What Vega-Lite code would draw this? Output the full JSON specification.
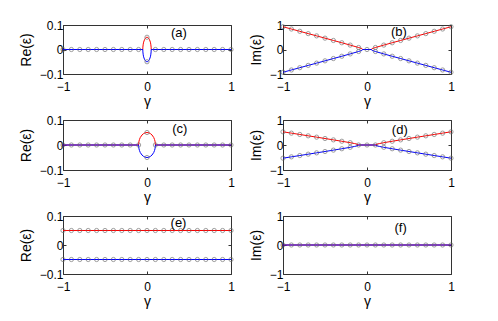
{
  "$schema": "https://vega.github.io/schema/vega-lite/v6.json",
  "padding": {"left": 18, "top": 18, "right": 0, "bottom": 0},
  "background": "white",
  "config": {
    "font": "Liberation Sans",
    "view": {"stroke": "#333", "strokeWidth": 1},
    "axis": {"grid": false, "domain": false, "tickSize": -3, "tickColor": "#333", "labelFont": "Liberation Sans", "labelFontSize": 12, "labelColor": "#000", "labelPadding": 3, "labelFlush": false, "labelOverlap": false, "titleFont": "Liberation Sans", "titleFontSize": 14, "titleFontWeight": "normal", "titleColor": "#000"},
    "axisY": {"titlePadding": 6},
    "axisX": {"titlePadding": 2, "labelPadding": 10}
  },
  "datasets": {
    "aL": [
      {"s":"r","g":-1,"v":0},{"s":"r","g":-0.05,"v":0},{"s":"r","g":-0.049,"v":0.0099},{"s":"r","g":-0.045,"v":0.0218},{"s":"r","g":-0.04,"v":0.03},{"s":"r","g":-0.03,"v":0.04},{"s":"r","g":-0.02,"v":0.0458},{"s":"r","g":-0.01,"v":0.049},{"s":"r","g":0,"v":0.05},{"s":"r","g":0.01,"v":0.049},{"s":"r","g":0.02,"v":0.0458},{"s":"r","g":0.03,"v":0.04},{"s":"r","g":0.04,"v":0.03},{"s":"r","g":0.045,"v":0.0218},{"s":"r","g":0.049,"v":0.0099},{"s":"r","g":0.05,"v":0},{"s":"r","g":1,"v":0},
      {"s":"b","g":-1,"v":0},{"s":"b","g":-0.05,"v":0},{"s":"b","g":-0.049,"v":-0.0099},{"s":"b","g":-0.045,"v":-0.0218},{"s":"b","g":-0.04,"v":-0.03},{"s":"b","g":-0.03,"v":-0.04},{"s":"b","g":-0.02,"v":-0.0458},{"s":"b","g":-0.01,"v":-0.049},{"s":"b","g":0,"v":-0.05},{"s":"b","g":0.01,"v":-0.049},{"s":"b","g":0.02,"v":-0.0458},{"s":"b","g":0.03,"v":-0.04},{"s":"b","g":0.04,"v":-0.03},{"s":"b","g":0.045,"v":-0.0218},{"s":"b","g":0.049,"v":-0.0099},{"s":"b","g":0.05,"v":0},{"s":"b","g":1,"v":0}
    ],
    "aM": [
      {"g":-1,"v":0},{"g":-0.9,"v":0},{"g":-0.8,"v":0},{"g":-0.7,"v":0},{"g":-0.6,"v":0},{"g":-0.5,"v":0},{"g":-0.4,"v":0},{"g":-0.3,"v":0},{"g":-0.2,"v":0},{"g":-0.1,"v":0},{"g":0,"v":0.05},{"g":0,"v":-0.05},{"g":0.1,"v":0},{"g":0.2,"v":0},{"g":0.3,"v":0},{"g":0.4,"v":0},{"g":0.5,"v":0},{"g":0.6,"v":0},{"g":0.7,"v":0},{"g":0.8,"v":0},{"g":0.9,"v":0},{"g":1,"v":0}
    ],
    "cL": [
      {"s":"r","g":-1,"v":0},{"s":"r","g":-0.1,"v":0},{"s":"r","g":-0.099,"v":0.007},{"s":"r","g":-0.095,"v":0.0156},{"s":"r","g":-0.09,"v":0.0218},{"s":"r","g":-0.08,"v":0.03},{"s":"r","g":-0.06,"v":0.04},{"s":"r","g":-0.04,"v":0.0458},{"s":"r","g":-0.02,"v":0.049},{"s":"r","g":0,"v":0.05},{"s":"r","g":0.02,"v":0.049},{"s":"r","g":0.04,"v":0.0458},{"s":"r","g":0.06,"v":0.04},{"s":"r","g":0.08,"v":0.03},{"s":"r","g":0.09,"v":0.0218},{"s":"r","g":0.095,"v":0.0156},{"s":"r","g":0.099,"v":0.007},{"s":"r","g":0.1,"v":0},{"s":"r","g":1,"v":0},
      {"s":"b","g":-1,"v":0},{"s":"b","g":-0.1,"v":0},{"s":"b","g":-0.099,"v":-0.007},{"s":"b","g":-0.095,"v":-0.0156},{"s":"b","g":-0.09,"v":-0.0218},{"s":"b","g":-0.08,"v":-0.03},{"s":"b","g":-0.06,"v":-0.04},{"s":"b","g":-0.04,"v":-0.0458},{"s":"b","g":-0.02,"v":-0.049},{"s":"b","g":0,"v":-0.05},{"s":"b","g":0.02,"v":-0.049},{"s":"b","g":0.04,"v":-0.0458},{"s":"b","g":0.06,"v":-0.04},{"s":"b","g":0.08,"v":-0.03},{"s":"b","g":0.09,"v":-0.0218},{"s":"b","g":0.095,"v":-0.0156},{"s":"b","g":0.099,"v":-0.007},{"s":"b","g":0.1,"v":0},{"s":"b","g":1,"v":0}
    ],
    "bL": [
      {"s":"r","g":-1,"v":0.929},{"s":"r","g":-0.9,"v":0.836},{"s":"r","g":-0.8,"v":0.743},{"s":"r","g":-0.7,"v":0.649},{"s":"r","g":-0.6,"v":0.556},{"s":"r","g":-0.5,"v":0.463},{"s":"r","g":-0.4,"v":0.369},{"s":"r","g":-0.3,"v":0.275},{"s":"r","g":-0.2,"v":0.18},{"s":"r","g":-0.1,"v":0.081},{"s":"r","g":-0.07,"v":0.046},{"s":"r","g":-0.06,"v":0.031},{"s":"r","g":-0.05,"v":0},{"s":"r","g":0,"v":0},{"s":"r","g":0.05,"v":0},{"s":"r","g":0.06,"v":0.031},{"s":"r","g":0.07,"v":0.046},{"s":"r","g":0.1,"v":0.081},{"s":"r","g":0.2,"v":0.18},{"s":"r","g":0.3,"v":0.275},{"s":"r","g":0.4,"v":0.369},{"s":"r","g":0.5,"v":0.463},{"s":"r","g":0.6,"v":0.556},{"s":"r","g":0.7,"v":0.649},{"s":"r","g":0.8,"v":0.743},{"s":"r","g":0.9,"v":0.836},{"s":"r","g":1,"v":0.929},
      {"s":"b","g":-1,"v":-0.929},{"s":"b","g":-0.9,"v":-0.836},{"s":"b","g":-0.8,"v":-0.743},{"s":"b","g":-0.7,"v":-0.649},{"s":"b","g":-0.6,"v":-0.556},{"s":"b","g":-0.5,"v":-0.463},{"s":"b","g":-0.4,"v":-0.369},{"s":"b","g":-0.3,"v":-0.275},{"s":"b","g":-0.2,"v":-0.18},{"s":"b","g":-0.1,"v":-0.081},{"s":"b","g":-0.07,"v":-0.046},{"s":"b","g":-0.06,"v":-0.031},{"s":"b","g":-0.05,"v":0},{"s":"b","g":0,"v":0},{"s":"b","g":0.05,"v":0},{"s":"b","g":0.06,"v":-0.031},{"s":"b","g":0.07,"v":-0.046},{"s":"b","g":0.1,"v":-0.081},{"s":"b","g":0.2,"v":-0.18},{"s":"b","g":0.3,"v":-0.275},{"s":"b","g":0.4,"v":-0.369},{"s":"b","g":0.5,"v":-0.463},{"s":"b","g":0.6,"v":-0.556},{"s":"b","g":0.7,"v":-0.649},{"s":"b","g":0.8,"v":-0.743},{"s":"b","g":0.9,"v":-0.836},{"s":"b","g":1,"v":-0.929}
    ],
    "bM": [
      {"g":-1,"v":0.929},{"g":-0.9,"v":0.836},{"g":-0.8,"v":0.743},{"g":-0.7,"v":0.649},{"g":-0.6,"v":0.556},{"g":-0.5,"v":0.463},{"g":-0.4,"v":0.369},{"g":-0.3,"v":0.275},{"g":-0.2,"v":0.18},{"g":-0.1,"v":0.081},{"g":0,"v":0},{"g":0.1,"v":0.081},{"g":0.2,"v":0.18},{"g":0.3,"v":0.275},{"g":0.4,"v":0.369},{"g":0.5,"v":0.463},{"g":0.6,"v":0.556},{"g":0.7,"v":0.649},{"g":0.8,"v":0.743},{"g":0.9,"v":0.836},{"g":1,"v":0.929},
      {"g":-1,"v":-0.929},{"g":-0.9,"v":-0.836},{"g":-0.8,"v":-0.743},{"g":-0.7,"v":-0.649},{"g":-0.6,"v":-0.556},{"g":-0.5,"v":-0.463},{"g":-0.4,"v":-0.369},{"g":-0.3,"v":-0.275},{"g":-0.2,"v":-0.18},{"g":-0.1,"v":-0.081},{"g":0.1,"v":-0.081},{"g":0.2,"v":-0.18},{"g":0.3,"v":-0.275},{"g":0.4,"v":-0.369},{"g":0.5,"v":-0.463},{"g":0.6,"v":-0.556},{"g":0.7,"v":-0.649},{"g":0.8,"v":-0.743},{"g":0.9,"v":-0.836},{"g":1,"v":-0.929}
    ],
    "dL": [
      {"s":"r","g":-1,"v":0.527},{"s":"r","g":-0.9,"v":0.474},{"s":"r","g":-0.8,"v":0.421},{"s":"r","g":-0.7,"v":0.367},{"s":"r","g":-0.6,"v":0.314},{"s":"r","g":-0.5,"v":0.26},{"s":"r","g":-0.4,"v":0.205},{"s":"r","g":-0.3,"v":0.15},{"s":"r","g":-0.2,"v":0.092},{"s":"r","g":-0.15,"v":0.059},{"s":"r","g":-0.12,"v":0.035},{"s":"r","g":-0.1,"v":0},{"s":"r","g":0,"v":0},{"s":"r","g":0.1,"v":0},{"s":"r","g":0.12,"v":0.035},{"s":"r","g":0.15,"v":0.059},{"s":"r","g":0.2,"v":0.092},{"s":"r","g":0.3,"v":0.15},{"s":"r","g":0.4,"v":0.205},{"s":"r","g":0.5,"v":0.26},{"s":"r","g":0.6,"v":0.314},{"s":"r","g":0.7,"v":0.367},{"s":"r","g":0.8,"v":0.421},{"s":"r","g":0.9,"v":0.474},{"s":"r","g":1,"v":0.527},
      {"s":"b","g":-1,"v":-0.527},{"s":"b","g":-0.9,"v":-0.474},{"s":"b","g":-0.8,"v":-0.421},{"s":"b","g":-0.7,"v":-0.367},{"s":"b","g":-0.6,"v":-0.314},{"s":"b","g":-0.5,"v":-0.26},{"s":"b","g":-0.4,"v":-0.205},{"s":"b","g":-0.3,"v":-0.15},{"s":"b","g":-0.2,"v":-0.092},{"s":"b","g":-0.15,"v":-0.059},{"s":"b","g":-0.12,"v":-0.035},{"s":"b","g":-0.1,"v":0},{"s":"b","g":0,"v":0},{"s":"b","g":0.1,"v":0},{"s":"b","g":0.12,"v":-0.035},{"s":"b","g":0.15,"v":-0.059},{"s":"b","g":0.2,"v":-0.092},{"s":"b","g":0.3,"v":-0.15},{"s":"b","g":0.4,"v":-0.205},{"s":"b","g":0.5,"v":-0.26},{"s":"b","g":0.6,"v":-0.314},{"s":"b","g":0.7,"v":-0.367},{"s":"b","g":0.8,"v":-0.421},{"s":"b","g":0.9,"v":-0.474},{"s":"b","g":1,"v":-0.527}
    ],
    "dM": [
      {"g":-1,"v":0.527},{"g":-0.9,"v":0.474},{"g":-0.8,"v":0.421},{"g":-0.7,"v":0.367},{"g":-0.6,"v":0.314},{"g":-0.5,"v":0.26},{"g":-0.4,"v":0.205},{"g":-0.3,"v":0.15},{"g":-0.2,"v":0.092},{"g":-0.1,"v":0},{"g":0,"v":0},{"g":0.1,"v":0},{"g":0.2,"v":0.092},{"g":0.3,"v":0.15},{"g":0.4,"v":0.205},{"g":0.5,"v":0.26},{"g":0.6,"v":0.314},{"g":0.7,"v":0.367},{"g":0.8,"v":0.421},{"g":0.9,"v":0.474},{"g":1,"v":0.527},
      {"g":-1,"v":-0.527},{"g":-0.9,"v":-0.474},{"g":-0.8,"v":-0.421},{"g":-0.7,"v":-0.367},{"g":-0.6,"v":-0.314},{"g":-0.5,"v":-0.26},{"g":-0.4,"v":-0.205},{"g":-0.3,"v":-0.15},{"g":-0.2,"v":-0.092},{"g":0.2,"v":-0.092},{"g":0.3,"v":-0.15},{"g":0.4,"v":-0.205},{"g":0.5,"v":-0.26},{"g":0.6,"v":-0.314},{"g":0.7,"v":-0.367},{"g":0.8,"v":-0.421},{"g":0.9,"v":-0.474},{"g":1,"v":-0.527}
    ],
    "eL": [
      {"s":"r","g":-1,"v":0.05},{"s":"r","g":1,"v":0.05},{"s":"b","g":-1,"v":-0.05},{"s":"b","g":1,"v":-0.05}
    ],
    "eM": [
      {"g":-1,"v":0.05},{"g":-0.9,"v":0.05},{"g":-0.8,"v":0.05},{"g":-0.7,"v":0.05},{"g":-0.6,"v":0.05},{"g":-0.5,"v":0.05},{"g":-0.4,"v":0.05},{"g":-0.3,"v":0.05},{"g":-0.2,"v":0.05},{"g":-0.1,"v":0.05},{"g":0,"v":0.05},{"g":0.1,"v":0.05},{"g":0.2,"v":0.05},{"g":0.3,"v":0.05},{"g":0.4,"v":0.05},{"g":0.5,"v":0.05},{"g":0.6,"v":0.05},{"g":0.7,"v":0.05},{"g":0.8,"v":0.05},{"g":0.9,"v":0.05},{"g":1,"v":0.05},
      {"g":-1,"v":-0.05},{"g":-0.9,"v":-0.05},{"g":-0.8,"v":-0.05},{"g":-0.7,"v":-0.05},{"g":-0.6,"v":-0.05},{"g":-0.5,"v":-0.05},{"g":-0.4,"v":-0.05},{"g":-0.3,"v":-0.05},{"g":-0.2,"v":-0.05},{"g":-0.1,"v":-0.05},{"g":0,"v":-0.05},{"g":0.1,"v":-0.05},{"g":0.2,"v":-0.05},{"g":0.3,"v":-0.05},{"g":0.4,"v":-0.05},{"g":0.5,"v":-0.05},{"g":0.6,"v":-0.05},{"g":0.7,"v":-0.05},{"g":0.8,"v":-0.05},{"g":0.9,"v":-0.05},{"g":1,"v":-0.05}
    ],
    "fL": [
      {"s":"r","g":-1,"v":0},{"s":"r","g":1,"v":0},{"s":"b","g":-1,"v":0},{"s":"b","g":1,"v":0}
    ],
    "fM": [
      {"g":-1,"v":0},{"g":-0.9,"v":0},{"g":-0.8,"v":0},{"g":-0.7,"v":0},{"g":-0.6,"v":0},{"g":-0.5,"v":0},{"g":-0.4,"v":0},{"g":-0.3,"v":0},{"g":-0.2,"v":0},{"g":-0.1,"v":0},{"g":0,"v":0},{"g":0.1,"v":0},{"g":0.2,"v":0},{"g":0.3,"v":0},{"g":0.4,"v":0},{"g":0.5,"v":0},{"g":0.6,"v":0},{"g":0.7,"v":0},{"g":0.8,"v":0},{"g":0.9,"v":0},{"g":1,"v":0}
    ]
  },
  "columns": 2,
  "spacing": {"row": 46, "column": 52},
  "bounds": "flush",
  "align": "each",
  "concat": [
    {
      "width": 168, "height": 49,
      "resolve": {"axis": {"x": "independent", "y": "independent"}},
      "encoding": {
        "x": {"field": "g", "type": "quantitative", "scale": {"domain": [-1, 1], "nice": false, "zero": false}, "axis": {"values": [-1, 0, 1], "format": "~g", "title": "γ"}},
        "y": {"field": "v", "type": "quantitative", "scale": {"domain": [-0.1, 0.1], "nice": false, "zero": false}, "axis": {"values": [-0.1, 0, 0.1], "format": "~g", "title": "Re(ε)"}}
      },
      "layer": [
        {"data": {"name": "aL"}, "mark": {"type": "line", "strokeWidth": 1}, "encoding": {"color": {"field": "s", "type": "nominal", "scale": {"domain": ["r", "b"], "range": ["#ff0000", "#0000ff"]}, "legend": null}}},
        {"data": {"name": "aM"}, "mark": {"type": "point", "filled": false, "size": 18, "stroke": "#666666", "strokeWidth": 0.9},
         "encoding": {"x": {"field": "g", "type": "quantitative", "scale": {"domain": [-1, 1], "nice": false, "zero": false}, "axis": null}, "y": {"field": "v", "type": "quantitative", "scale": {"domain": [-0.1, 0.1], "nice": false, "zero": false}, "axis": null}}},
        {"data": {"values": [{"g": 0.38, "v": 0.068, "t": "(a)"}]}, "mark": {"type": "text", "fontSize": 13, "font": "Liberation Sans", "color": "#000", "baseline": "middle"},
         "encoding": {"text": {"field": "t"}, "x": {"field": "g", "type": "quantitative", "scale": {"domain": [-1, 1], "nice": false, "zero": false}, "axis": {"orient": "top", "values": [-1, 0, 1], "labels": false, "title": null}}, "y": {"field": "v", "type": "quantitative", "scale": {"domain": [-0.1, 0.1], "nice": false, "zero": false}, "axis": {"orient": "right", "values": [-0.1, 0, 0.1], "labels": false, "title": null}}}}
      ]
    },
    {
      "width": 168, "height": 49,
      "resolve": {"axis": {"x": "independent", "y": "independent"}},
      "encoding": {
        "x": {"field": "g", "type": "quantitative", "scale": {"domain": [-1, 1], "nice": false, "zero": false}, "axis": {"values": [-1, 0, 1], "format": "~g", "title": "γ"}},
        "y": {"field": "v", "type": "quantitative", "scale": {"domain": [-1, 1], "nice": false, "zero": false}, "axis": {"values": [-1, 0, 1], "format": "~g", "title": "Im(ε)"}}
      },
      "layer": [
        {"data": {"name": "bL"}, "mark": {"type": "line", "strokeWidth": 1}, "encoding": {"color": {"field": "s", "type": "nominal", "scale": {"domain": ["r", "b"], "range": ["#ff0000", "#0000ff"]}, "legend": null}}},
        {"data": {"name": "bM"}, "mark": {"type": "point", "filled": false, "size": 18, "stroke": "#666666", "strokeWidth": 0.9},
         "encoding": {"x": {"field": "g", "type": "quantitative", "scale": {"domain": [-1, 1], "nice": false, "zero": false}, "axis": null}, "y": {"field": "v", "type": "quantitative", "scale": {"domain": [-1, 1], "nice": false, "zero": false}, "axis": null}}},
        {"data": {"values": [{"g": 0.38, "v": 0.73, "t": "(b)"}]}, "mark": {"type": "text", "fontSize": 13, "font": "Liberation Sans", "color": "#000", "baseline": "middle"},
         "encoding": {"text": {"field": "t"}, "x": {"field": "g", "type": "quantitative", "scale": {"domain": [-1, 1], "nice": false, "zero": false}, "axis": {"orient": "top", "values": [-1, 0, 1], "labels": false, "title": null}}, "y": {"field": "v", "type": "quantitative", "scale": {"domain": [-1, 1], "nice": false, "zero": false}, "axis": {"orient": "right", "values": [-1, 0, 1], "labels": false, "title": null}}}}
      ]
    },
    {
      "width": 168, "height": 50,
      "resolve": {"axis": {"x": "independent", "y": "independent"}},
      "encoding": {
        "x": {"field": "g", "type": "quantitative", "scale": {"domain": [-1, 1], "nice": false, "zero": false}, "axis": {"values": [-1, 0, 1], "format": "~g", "title": "γ"}},
        "y": {"field": "v", "type": "quantitative", "scale": {"domain": [-0.1, 0.1], "nice": false, "zero": false}, "axis": {"values": [-0.1, 0, 0.1], "format": "~g", "title": "Re(ε)"}}
      },
      "layer": [
        {"data": {"name": "cL"}, "mark": {"type": "line", "strokeWidth": 1}, "encoding": {"color": {"field": "s", "type": "nominal", "scale": {"domain": ["r", "b"], "range": ["#ff0000", "#0000ff"]}, "legend": null}}},
        {"data": {"name": "aM"}, "mark": {"type": "point", "filled": false, "size": 18, "stroke": "#666666", "strokeWidth": 0.9},
         "encoding": {"x": {"field": "g", "type": "quantitative", "scale": {"domain": [-1, 1], "nice": false, "zero": false}, "axis": null}, "y": {"field": "v", "type": "quantitative", "scale": {"domain": [-0.1, 0.1], "nice": false, "zero": false}, "axis": null}}},
        {"data": {"values": [{"g": 0.39, "v": 0.065, "t": "(c)"}]}, "mark": {"type": "text", "fontSize": 13, "font": "Liberation Sans", "color": "#000", "baseline": "middle"},
         "encoding": {"text": {"field": "t"}, "x": {"field": "g", "type": "quantitative", "scale": {"domain": [-1, 1], "nice": false, "zero": false}, "axis": {"orient": "top", "values": [-1, 0, 1], "labels": false, "title": null}}, "y": {"field": "v", "type": "quantitative", "scale": {"domain": [-0.1, 0.1], "nice": false, "zero": false}, "axis": {"orient": "right", "values": [-0.1, 0, 0.1], "labels": false, "title": null}}}}
      ]
    },
    {
      "width": 168, "height": 50,
      "resolve": {"axis": {"x": "independent", "y": "independent"}},
      "encoding": {
        "x": {"field": "g", "type": "quantitative", "scale": {"domain": [-1, 1], "nice": false, "zero": false}, "axis": {"values": [-1, 0, 1], "format": "~g", "title": "γ"}},
        "y": {"field": "v", "type": "quantitative", "scale": {"domain": [-1, 1], "nice": false, "zero": false}, "axis": {"values": [-1, 0, 1], "format": "~g", "title": "Im(ε)"}}
      },
      "layer": [
        {"data": {"name": "dL"}, "mark": {"type": "line", "strokeWidth": 1}, "encoding": {"color": {"field": "s", "type": "nominal", "scale": {"domain": ["r", "b"], "range": ["#ff0000", "#0000ff"]}, "legend": null}}},
        {"data": {"name": "dM"}, "mark": {"type": "point", "filled": false, "size": 18, "stroke": "#666666", "strokeWidth": 0.9},
         "encoding": {"x": {"field": "g", "type": "quantitative", "scale": {"domain": [-1, 1], "nice": false, "zero": false}, "axis": null}, "y": {"field": "v", "type": "quantitative", "scale": {"domain": [-1, 1], "nice": false, "zero": false}, "axis": null}}},
        {"data": {"values": [{"g": 0.39, "v": 0.62, "t": "(d)"}]}, "mark": {"type": "text", "fontSize": 13, "font": "Liberation Sans", "color": "#000", "baseline": "middle"},
         "encoding": {"text": {"field": "t"}, "x": {"field": "g", "type": "quantitative", "scale": {"domain": [-1, 1], "nice": false, "zero": false}, "axis": {"orient": "top", "values": [-1, 0, 1], "labels": false, "title": null}}, "y": {"field": "v", "type": "quantitative", "scale": {"domain": [-1, 1], "nice": false, "zero": false}, "axis": {"orient": "right", "values": [-1, 0, 1], "labels": false, "title": null}}}}
      ]
    },
    {
      "width": 168, "height": 58,
      "resolve": {"axis": {"x": "independent", "y": "independent"}},
      "encoding": {
        "x": {"field": "g", "type": "quantitative", "scale": {"domain": [-1, 1], "nice": false, "zero": false}, "axis": {"values": [-1, 0, 1], "format": "~g", "title": "γ"}},
        "y": {"field": "v", "type": "quantitative", "scale": {"domain": [-0.1, 0.1], "nice": false, "zero": false}, "axis": {"values": [-0.1, 0, 0.1], "format": "~g", "title": "Re(ε)"}}
      },
      "layer": [
        {"data": {"name": "eL"}, "mark": {"type": "line", "strokeWidth": 1}, "encoding": {"color": {"field": "s", "type": "nominal", "scale": {"domain": ["r", "b"], "range": ["#ff0000", "#0000ff"]}, "legend": null}}},
        {"data": {"name": "eM"}, "mark": {"type": "point", "filled": false, "size": 18, "stroke": "#666666", "strokeWidth": 0.9},
         "encoding": {"x": {"field": "g", "type": "quantitative", "scale": {"domain": [-1, 1], "nice": false, "zero": false}, "axis": null}, "y": {"field": "v", "type": "quantitative", "scale": {"domain": [-0.1, 0.1], "nice": false, "zero": false}, "axis": null}}},
        {"data": {"values": [{"g": 0.375, "v": 0.077, "t": "(e)"}]}, "mark": {"type": "text", "fontSize": 13, "font": "Liberation Sans", "color": "#000", "baseline": "middle"},
         "encoding": {"text": {"field": "t"}, "x": {"field": "g", "type": "quantitative", "scale": {"domain": [-1, 1], "nice": false, "zero": false}, "axis": {"orient": "top", "values": [-1, 0, 1], "labels": false, "title": null}}, "y": {"field": "v", "type": "quantitative", "scale": {"domain": [-0.1, 0.1], "nice": false, "zero": false}, "axis": {"orient": "right", "values": [-0.1, 0, 0.1], "labels": false, "title": null}}}}
      ]
    },
    {
      "width": 168, "height": 58,
      "resolve": {"axis": {"x": "independent", "y": "independent"}},
      "encoding": {
        "x": {"field": "g", "type": "quantitative", "scale": {"domain": [-1, 1], "nice": false, "zero": false}, "axis": {"values": [-1, 0, 1], "format": "~g", "title": "γ"}},
        "y": {"field": "v", "type": "quantitative", "scale": {"domain": [-1, 1], "nice": false, "zero": false}, "axis": {"values": [-1, 0, 1], "format": "~g", "title": "Im(ε)"}}
      },
      "layer": [
        {"data": {"name": "fL"}, "mark": {"type": "line", "strokeWidth": 1}, "encoding": {"color": {"field": "s", "type": "nominal", "scale": {"domain": ["r", "b"], "range": ["#ff0000", "#0000ff"]}, "legend": null}}},
        {"data": {"name": "fM"}, "mark": {"type": "point", "filled": false, "size": 18, "stroke": "#666666", "strokeWidth": 0.9},
         "encoding": {"x": {"field": "g", "type": "quantitative", "scale": {"domain": [-1, 1], "nice": false, "zero": false}, "axis": null}, "y": {"field": "v", "type": "quantitative", "scale": {"domain": [-1, 1], "nice": false, "zero": false}, "axis": null}}},
        {"data": {"values": [{"g": 0.4, "v": 0.6, "t": "(f)"}]}, "mark": {"type": "text", "fontSize": 13, "font": "Liberation Sans", "color": "#000", "baseline": "middle"},
         "encoding": {"text": {"field": "t"}, "x": {"field": "g", "type": "quantitative", "scale": {"domain": [-1, 1], "nice": false, "zero": false}, "axis": {"orient": "top", "values": [-1, 0, 1], "labels": false, "title": null}}, "y": {"field": "v", "type": "quantitative", "scale": {"domain": [-1, 1], "nice": false, "zero": false}, "axis": {"orient": "right", "values": [-1, 0, 1], "labels": false, "title": null}}}}
      ]
    }
  ]
}
